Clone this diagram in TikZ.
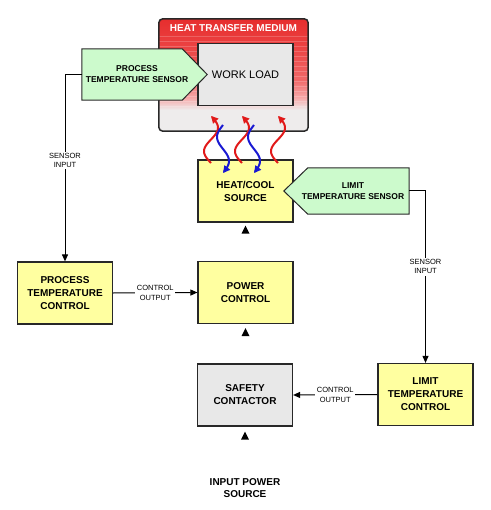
\documentclass[tikz,border=0pt]{standalone}
\usepackage{fontspec}
\setmainfont{Liberation Sans}
\usetikzlibrary{arrows.meta,calc}
\definecolor{boxyellow}{RGB}{255,255,160}
\definecolor{boxgray}{RGB}{232,232,232}
\definecolor{sensgreen}{RGB}{204,250,204}
\definecolor{medred}{RGB}{230,45,45}
\definecolor{medredtwo}{RGB}{235,65,65}
\definecolor{medmid}{RGB}{240,105,105}
\definecolor{medpink}{RGB}{246,170,170}
\definecolor{medwhite}{RGB}{238,236,236}
\definecolor{wavered}{RGB}{225,25,25}
\definecolor{waveblue}{RGB}{25,25,210}
\definecolor{edge}{RGB}{40,40,40}
\begin{document}
\begin{tikzpicture}[x=1pt,y=-1pt,
 ctrlbox/.style={draw=edge, line width=1.2pt, fill=boxyellow, minimum width=95pt, minimum height=62pt, align=center, inner sep=0pt, font=\bfseries\fontsize{10}{13}\selectfont},
 graybox/.style={ctrlbox, fill=boxgray},
 sensorbody/.style={minimum width=#1, inner sep=0pt},
 sensortext/.style={align=center, inner sep=0pt, font=\bfseries\fontsize{8.5}{11}\selectfont},
 sensorshape/.style={draw=edge, line width=1pt, fill=sensgreen},
 lbl/.style={fill=white, inner sep=1.5pt, align=center, font=\fontsize{7.5}{9.5}\selectfont},
 conn/.style={draw=black, line width=1pt, -{Triangle[length=7pt,width=6pt]}},
 wave/.style={line width=2pt, -{Triangle[length=7pt,width=7pt]}},
 powertip/.style={fill=black},
 stripe/.style={white, opacity=0.2, line width=0.8pt},
 ]
\useasboundingbox (0,0) rectangle (490,510);
% heat transfer medium
\node[minimum width=149pt, minimum height=112pt, inner sep=0pt] (medium) at (233.5,75) {};
\begin{scope}
  \clip[rounded corners=4pt] (medium.north west) rectangle (medium.south east);
  \shade[top color=medred, bottom color=medredtwo] (159,18) rectangle (308,45);
  \shade[top color=medredtwo, bottom color=medmid] (159,45) rectangle (308,80);
  \shade[top color=medmid, bottom color=medpink] (159,80) rectangle (308,98);
  \shade[top color=medpink, bottom color=medwhite] (159,98) rectangle (308,110);
  \fill[medwhite] (159,110) rectangle (308,132);
  \foreach \yy in {36,41,...,106}
    \draw[stripe] (159,\yy) -- (308,\yy);
\end{scope}
\draw[edge, line width=1.5pt, rounded corners=4pt] (medium.north west) rectangle (medium.south east);
\node[font=\bfseries\fontsize{10}{12}\selectfont, text=white] (mtitle) at (233.5,28) {HEAT TRANSFER MEDIUM};
\node[graybox, font=\fontsize{11}{13}\selectfont] (wl) at (245.5,74.5) {WORK LOAD};
% boxes
\node[ctrlbox] (hc) at (245.5,191) {HEAT/COOL\\SOURCE};
\node[ctrlbox] (ptc) at (65,293) {PROCESS\\TEMPERATURE\\CONTROL};
\node[ctrlbox] (pc) at (245.5,292.5) {POWER\\CONTROL};
\node[graybox] (sc) at (245,395) {SAFETY\\CONTACTOR};
\node[ctrlbox] (ltc) at (425.5,394.5) {LIMIT\\TEMPERATURE\\CONTROL};
% process sensor
\node[sensorbody=110pt, minimum height=51pt] (psens) at (137,74.5) {};
\draw[sensorshape] (psens.north west) -- ($(psens.north east)+(-10,0)$) -- ($(psens.east)+(15,0)$) -- ($(psens.south east)+(-10,0)$) -- (psens.south west) -- cycle;
\node[sensortext] (pstext) at (psens.center) {PROCESS\\TEMPERATURE SENSOR};
% limit sensor
\node[sensorbody=112pt, minimum height=46pt] (lsens) at (353,191) {};
\draw[sensorshape] (lsens.north east) -- ($(lsens.north west)+(11,0)$) -- ($(lsens.west)+(-13,0)$) -- ($(lsens.south west)+(11,0)$) -- (lsens.south east) -- cycle;
\node[sensortext] (lstext) at (lsens.center) {LIMIT\\TEMPERATURE SENSOR};
% connectors
\draw[conn] (psens.west) -| node[lbl, pos=0.73] {SENSOR\\INPUT} (ptc.north);
\draw[conn] (lsens.east) -| node[lbl, pos=0.72] {SENSOR\\INPUT} (ltc.north);
\draw[conn] (ptc.east) -- node[lbl] {CONTROL\\OUTPUT} (pc.west);
\draw[conn] (ltc.west) -- node[lbl] {CONTROL\\OUTPUT} (sc.east);
% input power tips
\fill[powertip] ($(hc.south)+(0,3)$) -- ++(4,8) -- ++(-8,0) -- cycle;
\fill[powertip] ($(pc.south)+(0,4)$) -- ++(4,8) -- ++(-8,0) -- cycle;
\fill[powertip] ($(sc.south)+(0,5)$) -- ++(4,8) -- ++(-8,0) -- cycle;
\node[font=\bfseries\fontsize{10}{12}\selectfont, align=center] (ips) at (245,488) {INPUT POWER\\SOURCE};
% wavy heat arrows
\foreach \xx in {211,242,278}
  \draw[wave, wavered] plot[domain=0:1, samples=40, smooth] ({\xx-7*sin(\x*360)},{163-47*\x});
\foreach \xx in {223,254}
  \draw[wave, waveblue] plot[domain=0:1, samples=40, smooth] ({\xx-6*sin(\x*360)},{125+48*\x});
\end{tikzpicture}
\end{document}
